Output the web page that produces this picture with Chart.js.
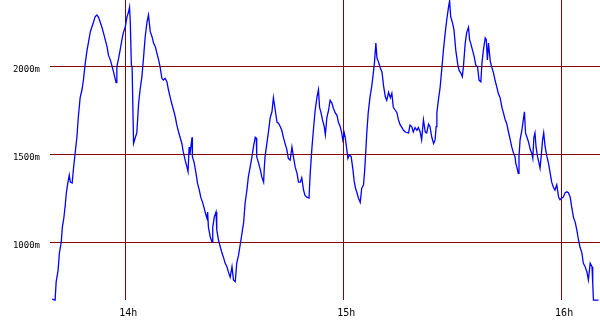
<!DOCTYPE html>
<html>
<head>
<meta charset="utf-8">
<script src="https://cdn.jsdelivr.net/npm/chart.js@4"></script>
<style>
  html, body { margin: 0; padding: 0; background: #fff; }
  .chart-container { position: relative; width: 600px; height: 330px; }
</style>
</head>
<body>
<div class="chart-container"><canvas id="altitude"></canvas></div>
<script>
// minutes after 13:00
const minutes = [
  39.9, 40.7, 41.0, 41.5, 41.9, 42.4, 42.7, 43.1, 43.5, 43.8, 44.2, 44.6, 44.9, 45.4, 45.8, 46.2,
  46.7, 47.1, 47.6, 48.1, 48.5, 49.0, 49.5, 49.9, 50.4, 50.8, 51.3, 51.7, 52.2, 52.7, 53.1, 53.6,
  54.0, 54.5, 55.0, 55.4, 55.9, 56.3, 56.8, 57.5, 57.7, 58.2, 58.6, 59.1, 59.5, 60.0, 60.5, 60.9,
  61.2, 61.4, 61.7, 61.9, 62.3, 62.8, 63.2, 63.7, 64.1, 64.6, 65.0, 65.5, 66.0, 66.4, 66.9, 67.4,
  67.8, 68.3, 68.7, 69.2, 69.6, 70.1, 70.5, 71.0, 71.5, 71.9, 72.4, 72.9, 73.3, 73.8, 74.2, 74.7,
  75.1, 75.6, 76.0, 76.5, 77.0, 77.3, 77.6, 77.8, 78.4, 78.5, 79.0, 79.5, 79.9, 80.4, 80.8, 81.3,
  81.7, 82.2, 82.5, 82.7, 82.9, 83.4, 83.9, 84.1, 84.5, 85.0, 85.2, 85.7, 86.2, 86.6, 87.1, 87.5,
  88.0, 88.4, 88.9, 89.4, 89.8, 90.3, 90.7, 91.2, 91.7, 92.6, 93.0, 93.5, 93.9, 94.4, 94.9, 95.3,
  95.8, 96.1, 96.2, 96.7, 97.2, 97.6, 98.1, 98.3, 98.5, 99.0, 99.4, 99.9, 100.4, 100.8, 101.3, 101.8,
  102.2, 102.7, 103.1, 103.6, 104.0, 104.5, 104.9, 105.4, 105.9, 106.3, 106.8, 107.3, 107.7, 108.2, 108.6, 109.1,
  109.5, 110.0, 110.6, 110.9, 111.4, 111.8, 112.3, 112.8, 113.2, 113.5, 113.9, 114.3, 114.8, 115.1, 115.5, 116.0,
  116.4, 116.9, 117.3, 117.8, 118.3, 118.7, 119.2, 119.6, 119.9, 120.3, 120.6, 121.0, 121.3, 121.7, 122.2, 122.7,
  123.0, 123.4, 123.8, 124.2, 124.7, 125.1, 125.6, 125.9, 126.2, 126.5, 126.9, 127.4, 127.9, 128.3, 128.6, 129.0,
  129.3, 129.7, 130.2, 130.7, 131.1, 131.6, 132.0, 132.5, 133.0, 133.4, 133.8, 134.3, 134.8, 135.2, 135.7, 136.2,
  136.6, 137.1, 138.0, 138.4, 138.9, 139.3, 139.8, 140.3, 140.7, 141.2, 141.6, 142.1, 142.6, 143.0, 143.5, 143.9,
  144.4, 144.9, 145.3, 145.6, 145.8, 146.2, 146.7, 147.2, 147.6, 148.1, 148.5, 149.0, 149.3, 149.6, 150.1, 150.5,
  151.0, 151.5, 151.9, 152.4, 152.8, 153.1, 153.6, 154.0, 154.5, 154.8, 155.1, 155.6, 156.1, 156.5, 157.0, 157.4,
  157.9, 158.2, 158.6, 159.1, 159.4, 159.7, 160.0, 160.5, 160.9, 161.4, 161.8, 162.3, 162.7, 163.2, 163.7, 164.1,
  164.6, 165.0, 165.5, 166.0, 166.4, 166.9, 167.3, 167.5, 167.8, 168.2, 168.4, 168.7, 169.2, 169.6, 169.9, 170.2,
  170.6, 171.0, 171.5, 171.9, 172.2, 172.5, 172.8, 173.1, 173.5, 173.9, 174.2, 174.5, 174.9, 175.2, 175.6, 176.1,
  176.5, 177.0, 177.4, 177.9, 178.3, 178.8, 179.3, 179.7, 180.2, 180.6, 181.1, 181.6, 182.0, 182.5, 182.9, 183.4,
  183.9, 184.3, 184.8, 185.2, 185.7, 186.1, 186.6, 187.1, 187.5, 188.0, 188.5, 188.7, 188.9, 190.3
];

// altitude in metres
const altitude = [
  675, 670, 775, 835, 940, 1000, 1085, 1135, 1210, 1280, 1335, 1380, 1340, 1335, 1425, 1500,
  1595, 1710, 1820, 1865, 1920, 2015, 2090, 2135, 2195, 2220, 2250, 2280, 2290, 2275, 2250, 2220,
  2190, 2150, 2110, 2060, 2035, 2005, 1965, 1905, 1995, 2045, 2090, 2150, 2190, 2220, 2280, 2305,
  2335, 2250, 2005, 1995, 1560, 1595, 1620, 1790, 1865, 1940, 2035, 2165, 2250, 2290, 2195, 2165,
  2130, 2110, 2075, 2035, 1995, 1930, 1920, 1930, 1910, 1865, 1820, 1780, 1750, 1710, 1665, 1625,
  1595, 1560, 1510, 1465, 1425, 1400, 1540, 1495, 1595, 1485, 1450, 1390, 1335, 1295, 1255, 1225,
  1195, 1155, 1135, 1170, 1085, 1030, 1000, 1085, 1140, 1170, 1070, 1010, 970, 940, 910, 880,
  860, 830, 800, 860, 785, 775, 880, 925, 990, 1110, 1220, 1295, 1370, 1425, 1485, 1540,
  1595, 1590, 1485, 1450, 1410, 1370, 1340, 1425, 1485, 1560, 1620, 1705, 1740, 1820, 1750, 1680,
  1675, 1655, 1635, 1590, 1560, 1525, 1475, 1465, 1540, 1485, 1425, 1390, 1340, 1340, 1365, 1295,
  1265, 1255, 1250, 1380, 1535, 1635, 1750, 1825, 1865, 1765, 1735, 1695, 1655, 1610, 1705, 1750,
  1805, 1790, 1760, 1735, 1720, 1680, 1655, 1620, 1580, 1620, 1590, 1525, 1475, 1495, 1485, 1410,
  1350, 1305, 1280, 1250, 1225, 1305, 1325, 1400, 1505, 1620, 1735, 1825, 1890, 1960, 2015, 2130,
  2045, 2025, 1990, 1965, 1890, 1825, 1805, 1850, 1820, 1845, 1765, 1750, 1735, 1695, 1665, 1650,
  1635, 1625, 1620, 1665, 1655, 1625, 1650, 1635, 1650, 1625, 1580, 1695, 1625, 1620, 1670, 1655,
  1595, 1560, 1580, 1655, 1735, 1805, 1880, 1995, 2090, 2190, 2260, 2335, 2370, 2280, 2245, 2205,
  2090, 2015, 1975, 1960, 1940, 1995, 2130, 2190, 2220, 2150, 2130, 2090, 2050, 2005, 1995, 1920,
  1910, 2015, 2090, 2160, 2150, 2035, 2130, 2025, 1995, 1960, 1920, 1880, 1845, 1820, 1765, 1735,
  1695, 1675, 1625, 1580, 1540, 1505, 1485, 1450, 1425, 1390, 1485, 1580, 1635, 1695, 1740, 1620,
  1595, 1570, 1525, 1505, 1475, 1595, 1620, 1540, 1485, 1450, 1420, 1485, 1580, 1620, 1540, 1485,
  1450, 1390, 1340, 1310, 1295, 1325, 1255, 1240, 1250, 1255, 1280, 1285, 1280, 1255, 1200, 1140,
  1110, 1070, 1010, 970, 940, 880, 860, 830, 785, 880, 860, 765, 670, 670
];

const hourTicks = [60, 120, 180];
const hourLabels = ['14h', '15h', '16h'];
const altTicks = [1000, 1500, 2000];
const altLabels = ['1000m', '1500m', '2000m'];

const gridRed = '#8b0000';

const points = minutes.map((m, i) => ({ x: m, y: altitude[i] }));

// the plot fills the canvas edge to edge, so drop the padding Chart.js keeps for edge labels
const noEdgePadding = (scale) => {
    scale.paddingTop = 0;
    scale.paddingBottom = 0;
    scale.paddingLeft = 0;
    scale.paddingRight = 0;
};

new Chart(document.getElementById('altitude'), {
    type: 'line',
    data: {
        datasets: [{
            data: points,
            borderColor: '#0000ff',
            borderWidth: 1.3,
            pointRadius: 0,
            tension: 0,
            fill: false,
            clip: false
        }]
    },
    options: {
        responsive: true,
        maintainAspectRatio: false,
        animation: false,
        layout: { padding: 0 },
        plugins: {
            legend: { display: false },
            tooltip: { enabled: false }
        },
        scales: {
            x: {
                type: 'linear',
                min: 39.3,
                max: 190.7,
                afterBuildTicks: (scale) => { scale.ticks = hourTicks.map(v => ({ value: v })); },
                afterFit: (scale) => { scale.height = 30; noEdgePadding(scale); },
                border: { display: false },
                grid: { color: gridRed, lineWidth: 1, drawTicks: false },
                ticks: {
                    padding: 7,
                    labelOffset: 3,
                    maxRotation: 0,
                    color: '#000',
                    font: { family: 'DejaVu Sans Mono', size: 10 },
                    callback: (v) => hourLabels[hourTicks.indexOf(v)]
                }
            },
            y: {
                min: 670.5,
                max: 2375,
                afterBuildTicks: (scale) => { scale.ticks = altTicks.map(v => ({ value: v })); },
                afterFit: (scale) => { scale.width = 50; noEdgePadding(scale); },
                border: { display: false },
                grid: { color: gridRed, lineWidth: 1, drawTicks: false },
                ticks: {
                    padding: 10,
                    labelOffset: 4,
                    color: '#000',
                    font: { family: 'DejaVu Sans Mono', size: 9 },
                    callback: (v) => altLabels[altTicks.indexOf(v)]
                }
            }
        }
    }
});
</script>
</body>
</html>
